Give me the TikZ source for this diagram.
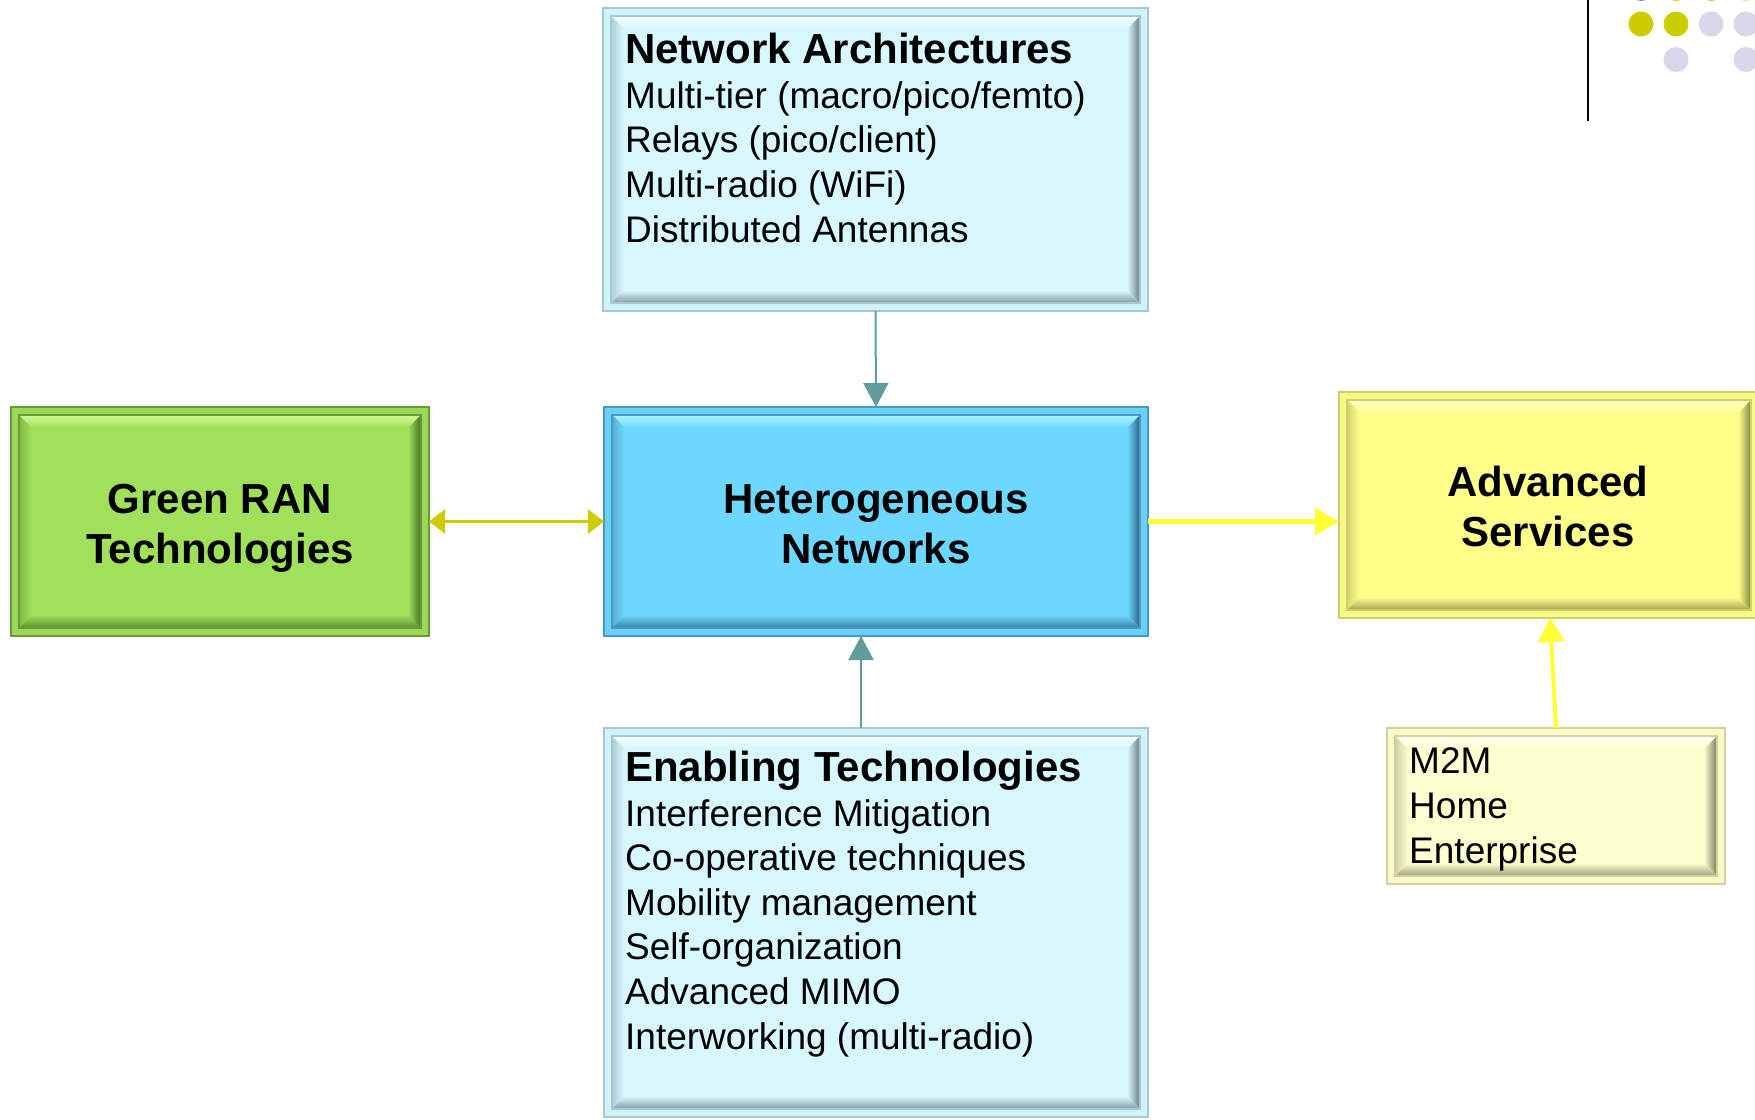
\documentclass[tikz,border=0pt]{standalone}
\usepackage{fontspec}
\setmainfont{Liberation Sans}
\usetikzlibrary{calc,arrows.meta}
\definecolor{cyanbase}{HTML}{D8F8FF}
\definecolor{cyanborder}{HTML}{A6C8D4}
\definecolor{cyanlight}{HTML}{F4FEFF}
\definecolor{cyandark}{HTML}{74868E}
\definecolor{bluebase}{HTML}{6DD8FF}
\definecolor{blueborder}{HTML}{4A98C6}
\definecolor{bluelight}{HTML}{A6F4FF}
\definecolor{bluedark}{HTML}{2F6A8C}
\definecolor{greenbase}{HTML}{A0E05A}
\definecolor{greenborder}{HTML}{6A9A38}
\definecolor{greenlight}{HTML}{CFF890}
\definecolor{greendark}{HTML}{4E7626}
\definecolor{yelbase}{HTML}{FFFF8A}
\definecolor{yelborder}{HTML}{CFCF6A}
\definecolor{yellight}{HTML}{FFFFC8}
\definecolor{yeldark}{HTML}{8E8E48}
\definecolor{palebase}{HTML}{FEFFCE}
\definecolor{paleborder}{HTML}{D2D29A}
\definecolor{palelight}{HTML}{FFFFF0}
\definecolor{paledark}{HTML}{86866A}
\definecolor{tealline}{HTML}{609C9C}
\definecolor{olivearrow}{HTML}{CCCC00}
\definecolor{brightyel}{HTML}{FFFF33}
\definecolor{dotyel}{HTML}{CCCC00}
\definecolor{dotlav}{HTML}{D8D8EA}
\definecolor{dotteal}{HTML}{669999}
\tikzset{
  bevelbox/.style n args={4}{
    rectangle, inner sep=0pt, outer sep=0pt, anchor=north west,
    fill=#1!88!#2, draw=#2, line width=1.5pt,
    path picture={
      \coordinate (NW) at (path picture bounding box.north west);
      \coordinate (NE) at (path picture bounding box.north east);
      \coordinate (SW) at (path picture bounding box.south west);
      \coordinate (SE) at (path picture bounding box.south east);
      \fill[#1] ($(NW)+(8pt,-8pt)$) rectangle ($(SE)+(-8pt,8pt)$);
      \shade[top color=#3, bottom color=#1] ($(NW)+(9pt,-9pt)$) -- ($(NE)+(-9pt,-9pt)$) -- ($(NE)+(-21pt,-21pt)$) -- ($(NW)+(21pt,-21pt)$) -- cycle;
      \shade[left color=#1!65!#4, right color=#1] ($(NW)+(9pt,-9pt)$) -- ($(NW)+(21pt,-21pt)$) -- ($(SW)+(21pt,21pt)$) -- ($(SW)+(9pt,9pt)$) -- cycle;
      \shade[left color=#1, right color=#4] ($(NE)+(-9pt,-9pt)$) -- ($(SE)+(-9pt,9pt)$) -- ($(SE)+(-21pt,21pt)$) -- ($(NE)+(-21pt,-21pt)$) -- cycle;
      \shade[top color=#1, bottom color=#4!75!#1] ($(SW)+(9pt,9pt)$) -- ($(SE)+(-9pt,9pt)$) -- ($(SE)+(-21pt,21pt)$) -- ($(SW)+(21pt,21pt)$) -- cycle;
      \draw[#2, line width=1.2pt] ($(NW)+(8pt,-8pt)$) rectangle ($(SE)+(-8pt,8pt)$);
    }
  },
  listtext/.style={anchor=base west, align=left, inner sep=0pt, font=\fontsize{37}{44.6}\selectfont},
  headtext/.style={anchor=base, align=center, inner sep=0pt, font=\fontsize{42}{50}\selectfont\bfseries},
  tealarrow/.style={draw=tealline, line width=2pt, -{Triangle[width=25pt,length=24pt]}, fill=tealline},
  olivearrowstyle/.style={draw=olivearrow, line width=2.4pt, {Triangle[width=24pt,length=16pt]}-{Triangle[width=24pt,length=16pt]}, fill=olivearrow},
  yelarrow/.style={draw=brightyel, line width=4pt, -{Triangle[width=26pt,length=24pt]}, fill=brightyel},
  dot/.style={circle, inner sep=0pt, minimum size=25pt}
}
\begin{document}
\begin{tikzpicture}[x=1pt,y=1pt]
\useasboundingbox (0,0) rectangle (1755,-1119);
\fill[white] (0,0) rectangle (1755,-1119);

% decoration top right
\draw[black, line width=2pt] (1588,0) -- (1588,-121);
\node[dot, fill=dotteal] (d01) at (1641,11.5) {};
\node[dot, fill=dotyel] (d02) at (1676,11.5) {};
\node[dot, fill=dotyel] (d03) at (1711,11.5) {};
\node[dot, fill=dotlav] (d04) at (1746,11.5) {};
\node[dot, fill=dotyel] (d11) at (1641,-24) {};
\node[dot, fill=dotyel] (d12) at (1676,-24) {};
\node[dot, fill=dotlav] (d13) at (1711,-24) {};
\node[dot, fill=dotlav] (d14) at (1746,-24) {};
\node[dot, fill=dotlav] (d22) at (1676,-59.5) {};
\node[dot, fill=dotlav] (d24) at (1746,-59.5) {};

% boxes
\node[bevelbox={cyanbase}{cyanborder}{cyanlight}{cyandark}, minimum width=545pt, minimum height=303pt] (arch) at (603,-8) {};
\node[bevelbox={bluebase}{blueborder}{bluelight}{bluedark}, minimum width=544pt, minimum height=229pt] (het) at (604,-407) {};
\node[bevelbox={greenbase}{greenborder}{greenlight}{greendark}, minimum width=418pt, minimum height=229pt] (green) at (11,-407) {};
\node[bevelbox={yelbase}{yelborder}{yellight}{yeldark}, minimum width=420pt, minimum height=226pt] (adv) at (1339,-392) {};
\node[bevelbox={palebase}{paleborder}{palelight}{paledark}, minimum width=338pt, minimum height=156pt] (m2m) at (1387,-728) {};
\node[bevelbox={cyanbase}{cyanborder}{cyanlight}{cyandark}, minimum width=544pt, minimum height=389pt] (enab) at (604,-728) {};

% texts (anchor base = baseline of last line)
\node[listtext] (archtxt) at (625,-242) {{\fontsize{42}{44.6}\selectfont\bfseries Network Architectures}\\Multi-tier (macro/pico/femto)\\Relays (pico/client)\\Multi-radio (WiFi)\\Distributed Antennas};
\node[listtext] (enabtxt) at (625,-1049) {{\fontsize{42}{44.6}\selectfont\bfseries Enabling Technologies}\\Interference Mitigation\\Co-operative techniques\\Mobility management\\Self-organization\\Advanced MIMO\\Interworking (multi-radio)};
\node[listtext] (m2mtxt) at (1409,-863) {M2M\\Home\\Enterprise};
\node[headtext] (hettxt) at (876,-563) {Heterogeneous\\Networks};
\node[headtext] (greentxt) at (220,-563) {Green RAN\\Technologies};
\node[headtext] (advtxt) at (1548,-546) {Advanced\\Services};

% connectors
\draw[tealarrow] (arch.south) -- (het.north);
\draw[tealarrow] ([xshift=-15pt]enab.north) -- ([xshift=-15pt]het.south);
\draw[olivearrowstyle] (green.east) -- (het.west);
\draw[yelarrow, line width=5.5pt] (het.east) -- (het.east -| adv.west);
\draw[yelarrow] (m2m.north) -- ([xshift=1pt]adv.south);
\end{tikzpicture}
\end{document}
